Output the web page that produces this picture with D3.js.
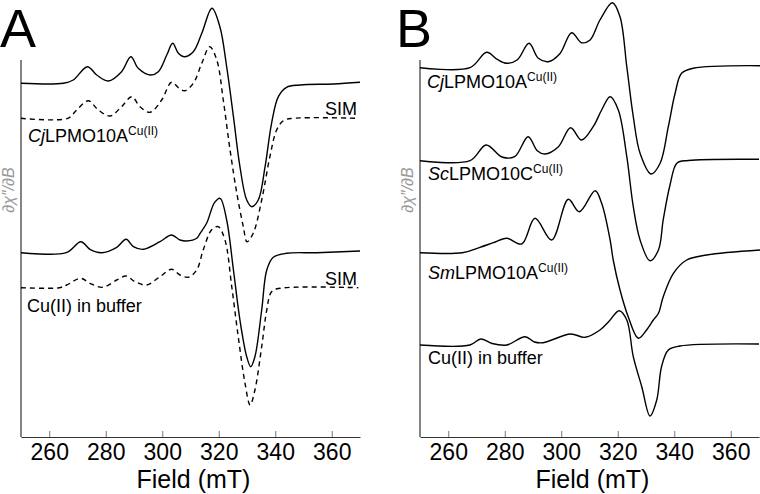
<!DOCTYPE html>
<html lang="en">
<head>
<meta charset="UTF-8">
<title>EPR spectra</title>
<script src="https://d3js.org/d3.v7.min.js"></script>
<style>
  body { margin: 0; background: #fff; }
  text { font-family: "Liberation Sans", Arial, sans-serif; }
</style>
</head>
<body>
<div id="chart"></div>
<script>
// field axis ticks (mT)
var fieldTicks = [260, 280, 300, 320, 340, 360];

// panel A: CjLPMO10A experiment + simulation (field mT, signal a.u. relative to own baseline)
var cjA_field = [250, 265, 268.5, 273.5, 276.8, 280.9, 285.6, 288.9, 291.5, 295.7, 298.6, 301.6, 303.7, 305.7, 307.7, 311, 314, 317.6, 320.4, 322.8, 325.2, 327.5, 329.9, 331.7, 334, 336.4, 338.7, 341.1, 344, 348.8, 360.6, 370];
var cjA_signal = [0, 0, 3.3, 16.6, 8.3, 2.3, 11.6, 26.6, 15, 8.3, 11.6, 28.3, 40, 30, 26.6, 31.6, 50, 75, 56.6, 16.6, -33.4, -83.4, -116.7, -123.4, -116.7, -83.4, -40, -13.4, -4, -1.7, -0.7, 1];
var cjSim_field = [250, 266.6, 269.7, 273.8, 277.4, 281.5, 285.6, 289.2, 292.1, 295.7, 299.8, 303.3, 306, 308, 311, 314, 316.8, 319.3, 321.6, 324, 326.4, 328.7, 330, 332.2, 335.2, 338.1, 340.5, 342.9, 346.4, 369.4];
var cjSim_signal = [0, 0, 8.3, 17.6, 8.3, 2.3, 11.6, 21.6, 11.6, 6, 18.3, 36, 30, 27.6, 35, 55, 71.6, 58.3, 18.3, -31.7, -75, -108.4, -123.4, -115, -81.7, -38.4, -11.7, -2.4, 0, 0];

// panel A: Cu(II) in buffer experiment + simulation
var cuA_field = [250, 266, 271.2, 274.4, 278.5, 283.9, 287.2, 289.8, 293.3, 299.2, 303.3, 306.3, 308.7, 312.2, 313.4, 315.7, 318.5, 320.5, 322.8, 325.2, 327.5, 329.9, 331.3, 332.8, 335.2, 337, 339.3, 344, 354.7, 370];
var cuA_signal = [0, 0, 11, 3.4, 0, 5.4, 13.4, 6, 3.4, 11, 17.7, 12.7, 11.7, 14.4, 19.4, 29.4, 50, 54.4, 32.7, -17.3, -67.3, -104, -114, -104, -57.3, -17.3, -4.6, -0.6, 0, 1.7];
var cuSim_field = [250, 263.5, 266.2, 271.1, 274.4, 278.9, 283.9, 287.2, 290.4, 294.5, 299.2, 303.3, 306.3, 309.2, 312.2, 314.5, 317.5, 319.8, 322.2, 324.6, 326.9, 329.3, 331.1, 332.8, 335.2, 337, 338.7, 341.7, 369.4];
var cuSim_signal = [0, 0, 2.7, 9.4, 4.4, 0.4, 7.7, 11.7, 6, 2.7, 11, 18.4, 12.7, 10.4, 17.7, 37.7, 58, 61, 47.7, 1, -49, -95.6, -117.3, -102.3, -59, -22.3, -4, -0.6, 0];

// panel B spectra
var cjB_field = [250, 267.7, 273.6, 277.5, 280.7, 284.5, 288.6, 291.9, 295.4, 299.5, 303.7, 307.2, 310.2, 313.7, 318.1, 320.8, 323.2, 325.5, 327.9, 331.8, 335, 337.9, 340.3, 342.6, 346.7, 370.4];
var cjB_signal = [0, 0, 15.4, 8, 4.4, 8, 24.4, 9.4, 6, 14, 35, 25, 27.7, 47.7, 65, 51, 1, -49, -85.6, -106.3, -95.6, -59, -25.6, -5.6, -0.6, 2];
var scB_field = [250, 267.7, 273.4, 279, 283.5, 288.3, 291.5, 294.2, 299, 303.3, 307.2, 311.3, 314.3, 317.3, 320.2, 323.2, 325.5, 327.9, 331.4, 334.4, 336.1, 338.5, 341, 345, 370];
var scB_signal = [0, 0, 15.7, 3.7, 4, 24, 10, 6.7, 14, 33, 20.7, 34, 50.7, 64, 50.7, 4, -46, -79.3, -100, -89.3, -59, -24.3, -2.3, 0.2, 1.4];
var smB_field = [250, 265, 271.2, 276, 280.7, 286, 290.7, 296.6, 302.5, 306.4, 312, 314.3, 317.3, 318.4, 320.8, 323.7, 327.3, 330.2, 332.6, 334.4, 336.1, 339.7, 344.4, 351.5, 370.4];
var smB_signal = [0, 0, 5.4, 10, 14.4, 8.7, 34.4, 12.7, 53.4, 41, 62, 49.4, 12.7, -7.3, -37.3, -64, -85.6, -77.3, -67.3, -60.6, -44, -20.6, -7.3, -2.3, 2.7];
var cuB_field = [250, 267.7, 271.5, 275.5, 280.7, 287.2, 290.5, 293.6, 303.3, 308.4, 313.7, 317, 320.5, 323.2, 325.5, 328.5, 331.4, 333.8, 335.5, 337.9, 342, 370];
var cuB_signal = [0, 0, 6, 1.5, 0, 8.3, 3, 2.3, 11, 7.7, 15, 24, 34.3, 25, -11.7, -41.7, -71, -55, -21.7, -5, -1, 1];

// vertical stacking offsets (a.u.)
var offsetsA = [353.7, 318.7, 184.3, 149.3];
var offsetsB = [369.3, 276.3, 184.3, 92];

function zip(f, s) { return f.map(function(d, i) { return {x: d, y: s[i]}; }); }

var svg = d3.select("#chart").append("svg")
  .attr("width", 760).attr("height", 494);

var panels = [
  { letter: "A", lx: 0, x0: 21, x1: 360,
    traces: [
      {data: zip(cjA_field, cjA_signal), off: offsetsA[0], dash: null},
      {data: zip(cjSim_field, cjSim_signal), off: offsetsA[1], dash: "5,4"},
      {data: zip(cuA_field, cuA_signal), off: offsetsA[2], dash: null},
      {data: zip(cuSim_field, cuSim_signal), off: offsetsA[3], dash: "5,4"}
    ],
    labels: [
      {x: 28, y: 142, it: "Cj", rest: "LPMO10A", sup: "Cu(II)"},
      {x: 27, y: 312, it: "", rest: "Cu(II) in buffer", sup: ""}
    ],
    sims: [115, 285]
  },
  { letter: "B", lx: 396, x0: 420, x1: 759,
    traces: [
      {data: zip(cjB_field, cjB_signal), off: offsetsB[0], dash: null},
      {data: zip(scB_field, scB_signal), off: offsetsB[1], dash: null},
      {data: zip(smB_field, smB_signal), off: offsetsB[2], dash: null},
      {data: zip(cuB_field, cuB_signal), off: offsetsB[3], dash: null}
    ],
    labels: [
      {x: 427, y: 88, it: "Cj", rest: "LPMO10A", sup: "Cu(II)"},
      {x: 428, y: 180, it: "Sc", rest: "LPMO10C", sup: "Cu(II)"},
      {x: 428, y: 279, it: "Sm", rest: "LPMO10A", sup: "Cu(II)"},
      {x: 428, y: 364, it: "", rest: "Cu(II) in buffer", sup: ""}
    ],
    sims: []
  }
];

var yScale = d3.scaleLinear().domain([0, 377]).range([437, 60]);

panels.forEach(function(p) {
  var x = d3.scaleLinear().domain([250, 370]).range([p.x0, p.x1]);
  var g = svg.append("g");

  // y axis line, no ticks
  g.append("line")
    .attr("x1", p.x0).attr("x2", p.x0)
    .attr("y1", yScale(377)).attr("y2", yScale(0))
    .attr("stroke", "#333").attr("stroke-width", 1.2);

  var xAxis = d3.axisBottom(x).tickValues(fieldTicks)
    .tickSizeInner(-6).tickSizeOuter(0).tickPadding(7);
  var ax = g.append("g")
    .attr("transform", "translate(0," + yScale(0) + ")")
    .call(xAxis);
  ax.select(".domain").attr("stroke", "#333").attr("stroke-width", 1.2);
  ax.selectAll(".tick line").attr("stroke", "#777");
  ax.selectAll(".tick text")
    .attr("font-size", 23).attr("fill", "#000");

  g.append("text")
    .attr("x", (p.x0 + p.x1) / 2 + 3).attr("y", 488)
    .attr("text-anchor", "middle").attr("font-size", 25)
    .text("Field (mT)");

  // panel letter
  g.append("text")
    .attr("x", p.lx).attr("y", 47)
    .attr("font-size", 54).text(p.letter);

  g.append("text")
    .attr("transform", "translate(" + (p.x0 - 7) + ",190) rotate(-90)")
    .attr("text-anchor", "middle")
    .attr("font-family", "Liberation Serif, DejaVu Serif, serif")
    .attr("font-style", "italic")
    .attr("font-size", 16).attr("fill", "#999")
    .text("\u2202\u03C7\u2033/\u2202B");

  p.traces.forEach(function(t) {
    var line = d3.line()
      .x(function(d) { return x(d.x); })
      .y(function(d) { return yScale(t.off + d.y); })
      .curve(d3.curveCatmullRom.alpha(0.5));
    g.append("path")
      .datum(t.data)
      .attr("d", line)
      .attr("fill", "none")
      .attr("stroke", "#000")
      .attr("stroke-width", 1.4)
      .attr("stroke-dasharray", t.dash);
  });

  p.labels.forEach(function(l) {
    var tx = g.append("text").attr("x", l.x).attr("y", l.y).attr("font-size", 18);
    if (l.it) tx.append("tspan").attr("font-style", "italic").text(l.it);
    tx.append("tspan").text(l.rest);
    if (l.sup) tx.append("tspan").attr("font-size", 12).attr("dy", -7).text(l.sup);
  });

  p.sims.forEach(function(yy) {
    g.append("text").attr("x", p.x1 - 3).attr("y", yy)
      .attr("text-anchor", "end").attr("font-size", 18).text("SIM");
  });
});
</script>
</body>
</html>
